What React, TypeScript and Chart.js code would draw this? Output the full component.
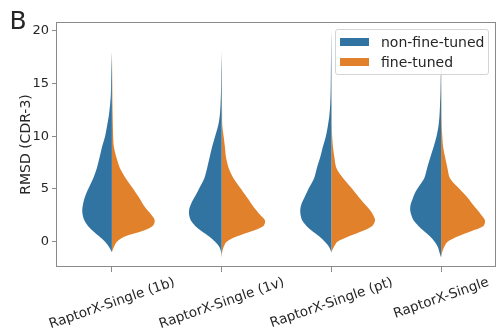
import React, { useEffect, useRef } from 'react';
import { Chart, registerables } from 'chart.js';

Chart.register(...registerables);

// ---------- data ----------
const categories = ['RaptorX-Single (1b)', 'RaptorX-Single (1v)', 'RaptorX-Single (pt)', 'RaptorX-Single'];
const seriesNames = ['non-fine-tuned', 'fine-tuned'];
const seriesColors = ['#3274a1', '#e1812c'];
const yTickValues = [0, 5, 10, 15, 20];

const rmsdGrid = [-1.5, -1, -0.5, 0, 0.5, 1, 1.5, 2, 2.5, 3, 3.5, 4, 4.5, 5, 6, 7, 8, 9, 10, 11, 12, 13, 14, 15, 16, 17, 18, 19, 20];

// relative density (half-violin width) per category, non-fine-tuned
const density1bNonFT = [0, 0, 2.8, 6.8, 12.5, 18.7, 24, 27.5, 29.2, 29.7, 29, 27.8, 26, 23.7, 18.8, 15, 12.3, 9.8, 6.8, 4.8, 3, 1.8, 1, 0.8, 0.6, 0.3, 0, 0, 0];
const density1vNonFT = [0, 0.5, 2.2, 6.5, 12.5, 20, 26.5, 30.8, 32.5, 32.6, 31, 28.5, 25.5, 22.8, 17.4, 14.5, 12, 9.5, 6.5, 3.5, 1.8, 1.1, 0.7, 0.5, 0.4, 0.2, 0, 0, 0];
const densityPtNonFT = [0, 0, 2.2, 6.5, 12, 19, 25, 29.2, 30.8, 31.2, 30.2, 28, 25.5, 23, 17.4, 14.5, 11.2, 8.5, 5.5, 3.5, 2, 1.2, 0.8, 0.6, 0.5, 0.4, 0.3, 0.2, 0];
const densityBaseNonFT = [0, 1.7, 3.3, 6.5, 11, 17, 22.8, 27.5, 29.8, 31, 30.6, 28.8, 26.8, 24, 17, 14, 10.8, 7.5, 4.6, 2.6, 1.6, 1.1, 0.7, 0.5, 0.3, 0.2, 0.1, 0, 0];

// relative density per category, fine-tuned
const density1bFT = [0, 0, 2, 5, 13, 30, 41, 43, 40, 35.5, 31.5, 28.5, 25, 21.5, 14, 8, 4.5, 2, 1.3, 1, 0.8, 0.6, 0.5, 0.4, 0.3, 0.2, 0, 0, 0];
const density1vFT = [0, 0.5, 2, 5, 15, 30, 42, 43.5, 39, 34.5, 30.5, 27, 23.2, 19.5, 12, 7, 4.4, 3.3, 2, 0.7, 0.5, 0.4, 0.3, 0.3, 0.2, 0.1, 0, 0, 0];
const densityPtFT = [0, 0, 2.5, 6, 17, 30.5, 41, 43.8, 42, 38.7, 34, 29.5, 25.2, 21, 12, 5, 3, 1.6, 0.8, 0.3, 0.3, 0.3, 0.2, 0.2, 0.2, 0.1, 0, 0, 0];
const densityBaseFT = [0, 1, 3, 6.5, 16.5, 30, 42.5, 44, 40.5, 36.4, 32, 28, 23.5, 18.5, 9, 6.3, 4, 2, 1.2, 0.6, 0.4, 0.3, 0.3, 0.2, 0.2, 0.1, 0, 0, 0];

const nonFineTuned = [density1bNonFT, density1vNonFT, densityPtNonFT, densityBaseNonFT];
const fineTuned = [density1bFT, density1vFT, densityPtFT, densityBaseFT];

// ---------- styling ----------
const DENSITY_TO_CATEGORY = 1 / 110; // density units -> category-axis units
const TEXT_COLOR = '#262626';
const FRAME_COLOR = '#8a8a8a';
const FONT = '"DejaVu Sans", sans-serif';

function halfViolin(center: number, dens: number[], side: number) {
  let first = dens.findIndex((d) => d > 0);
  let last = dens.length - 1 - [...dens].reverse().findIndex((d) => d > 0);
  first = Math.max(0, first - 1);
  last = Math.min(dens.length - 1, last + 1);
  const pts: { x: number; y: number }[] = [];
  for (let k = first; k <= last; k++) {
    pts.push({ x: center + side * dens[k] * DENSITY_TO_CATEGORY, y: rmsdGrid[k] });
  }
  return pts;
}

const decorPlugin = {
  id: 'decor',
  afterDraw(chart: any) {
    const { ctx, chartArea: a, scales } = chart;
    ctx.save();
    ctx.strokeStyle = FRAME_COLOR;
    ctx.lineWidth = 1;
    ctx.strokeRect(a.left - 0.5, a.top + 0.5, a.right - a.left, a.bottom - a.top - 1);

    ctx.fillStyle = TEXT_COLOR;
    ctx.font = '13.5px ' + FONT;
    const th = (19 * Math.PI) / 180;
    const s = Math.sin(th);
    const c = Math.cos(th);
    categories.forEach((label, i) => {
      const x = scales.x.getPixelForValue(i);
      const m = ctx.measureText(label);
      const A = m.actualBoundingBoxAscent || 10;
      const D = m.actualBoundingBoxDescent || 3;
      const L = m.width;
      const topY = a.bottom + 8;
      const oy = topY + (L / 2) * s + A * c;
      const ox = x - ((D - A) * s) / 2;
      ctx.save();
      ctx.translate(ox, oy);
      ctx.rotate(-th);
      ctx.textAlign = 'center';
      ctx.textBaseline = 'alphabetic';
      ctx.fillText(label, 0, 0);
      ctx.restore();
    });

    ctx.save();
    ctx.translate(26, (a.top + a.bottom) / 2);
    ctx.rotate(-Math.PI / 2);
    ctx.font = '14px ' + FONT;
    ctx.textAlign = 'center';
    ctx.textBaseline = 'middle';
    ctx.fillText('RMSD (CDR-3)', 0, 0);
    ctx.restore();

    ctx.font = '25px ' + FONT;
    ctx.textAlign = 'left';
    ctx.textBaseline = 'alphabetic';
    ctx.fillText('B', 9.5, 28.5);
    ctx.restore();
  },
};

export default function App() {
  const ref = useRef<HTMLCanvasElement>(null);

  useEffect(() => {
    if (!ref.current) return;
    const datasets: any[] = [];
    [nonFineTuned, fineTuned].forEach((series, s) => {
      series.forEach((dens, i) => {
        datasets.push({
          label: seriesNames[s],
          data: halfViolin(i, dens, s === 0 ? -1 : 1),
          showLine: true,
          fill: 'shape',
          backgroundColor: seriesColors[s],
          borderColor: 'rgba(0,0,0,0)',
          borderWidth: 0,
          pointRadius: 0,
          tension: 0.3,
        });
      });
    });

    const chart = new Chart(ref.current, {
      type: 'scatter',
      data: { datasets },
      plugins: [decorPlugin],
      options: {
        animation: false,
        responsive: false,
        devicePixelRatio: 1,
        events: [],
        layout: { padding: { top: 22, right: 0, left: 0, bottom: 0 } },
        plugins: { legend: { display: false }, tooltip: { enabled: false } },
        scales: {
          x: {
            type: 'linear',
            min: -0.5,
            max: 3.5,
            afterBuildTicks: (scale: any) => {
              scale.ticks = categories.map((_, i) => ({ value: i }));
            },
            afterFit: (scale: any) => {
              scale.height = 63;
            },
            ticks: { display: false },
            border: { display: false },
            grid: { drawOnChartArea: false, drawTicks: true, tickLength: 5, color: FRAME_COLOR },
          },
          y: {
            type: 'linear',
            min: -2.4,
            max: 20.84,
            afterBuildTicks: (scale: any) => {
              scale.ticks = yTickValues.map((v) => ({ value: v }));
            },
            afterFit: (scale: any) => {
              scale.width = 57;
            },
            ticks: { font: { family: FONT, size: 13 }, color: TEXT_COLOR, padding: 3 },
            border: { display: false },
            grid: { drawOnChartArea: false, drawTicks: true, tickLength: 5, color: FRAME_COLOR },
          },
        },
      } as any,
    });
    return () => chart.destroy();
  }, []);

  return (
    <div style={{ position: 'absolute', left: 0, top: 0, width: 496, height: 330, background: '#fff' }}>
      <canvas ref={ref} width={496} height={330} style={{ display: 'block' }} />
      <div
        style={{
          position: 'absolute',
          left: 335,
          top: 29,
          width: 154,
          height: 46,
          boxSizing: 'border-box',
          background: 'rgba(255,255,255,0.8)',
          border: '1px solid #d4d4d4',
          borderRadius: 3,
          fontFamily: FONT,
          fontSize: 14,
          color: TEXT_COLOR,
        }}
      >
        {seriesNames.map((name, s) => (
          <React.Fragment key={name}>
            <div
              style={{
                position: 'absolute',
                left: 4,
                top: 8 + s * 20,
                width: 29,
                height: 8,
                background: seriesColors[s],
              }}
            />
            <div
              style={{
                position: 'absolute',
                left: 45,
                top: 2 + s * 20,
                height: 20,
                lineHeight: '20px',
                whiteSpace: 'nowrap',
              }}
            >
              {name}
            </div>
          </React.Fragment>
        ))}
      </div>
    </div>
  );
}
